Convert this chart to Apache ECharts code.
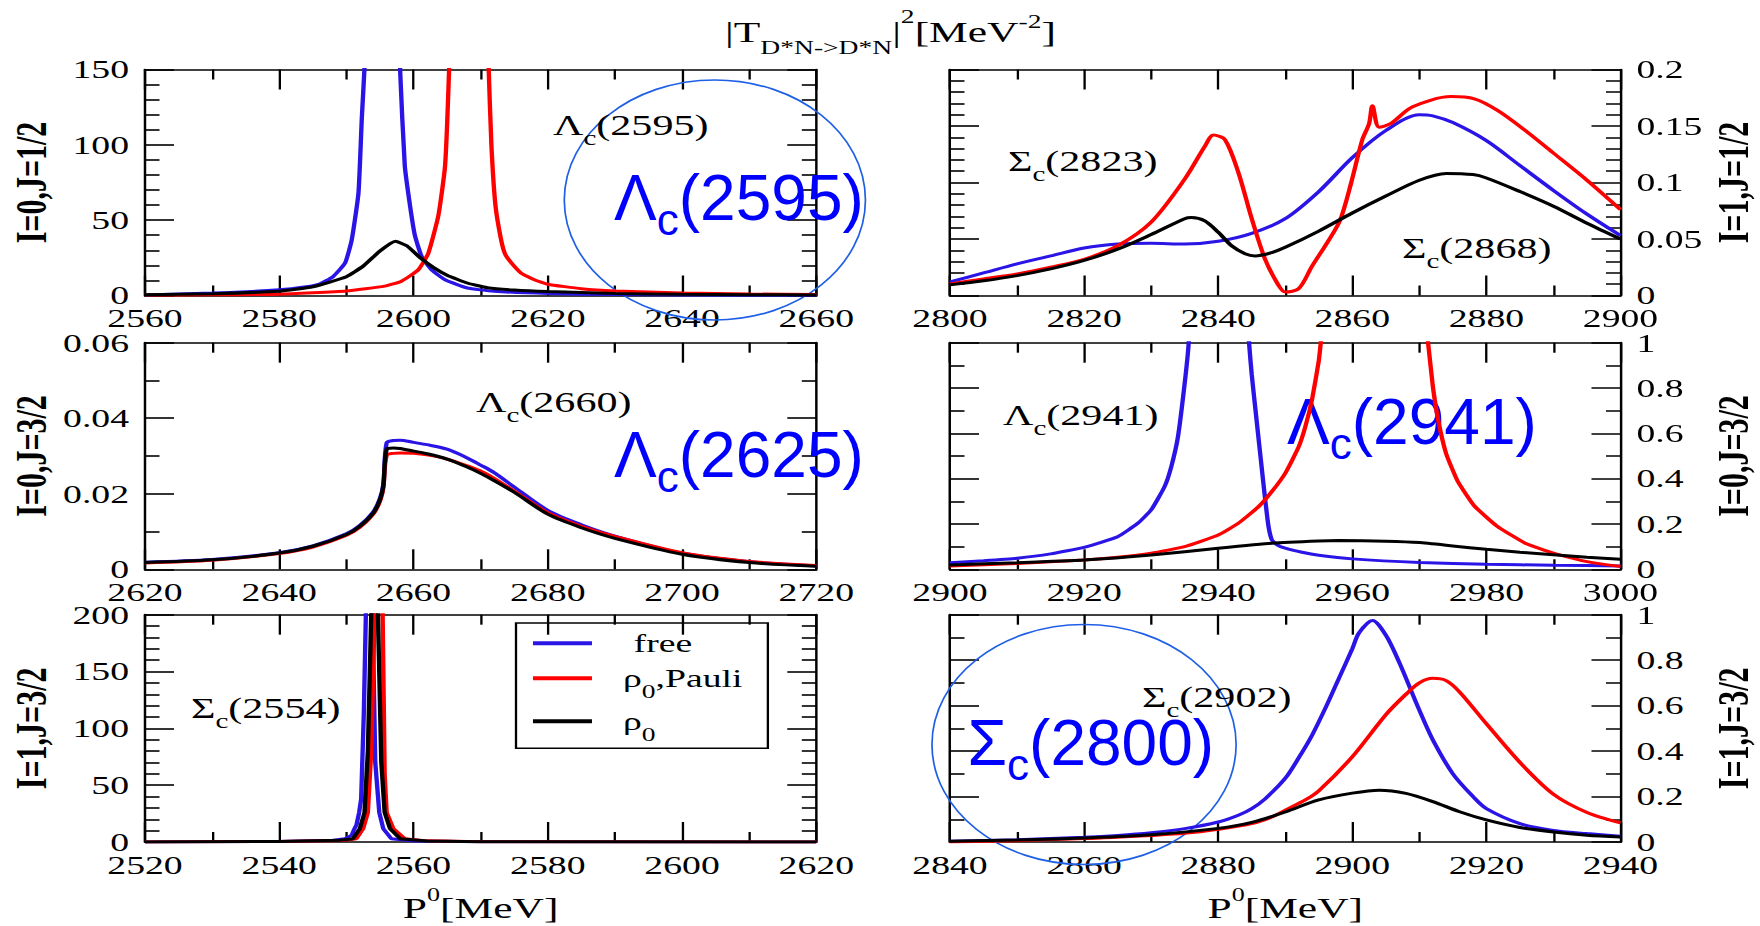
<!DOCTYPE html>
<html><head><meta charset="utf-8">
<script src="https://cdn.jsdelivr.net/npm/echarts@6/dist/echarts.min.js"></script>
<style>
html,body{margin:0;padding:0;background:#fff;overflow:hidden;}
#wrap{width:1760px;height:926px;overflow:hidden;position:relative;background:#fff;}
#chart{width:1213.79px;height:926px;position:absolute;left:0;top:0;transform:scaleX(1.45);transform-origin:0 0;}
</style></head>
<body><div id="wrap"><div id="chart"></div></div>
<script>
// ---------------- data ----------------
const seriesNames = ['free', 'ρ0,Pauli', 'ρ0'];

// Panel 1: I=0, J=1/2  (x 2560..2660)
const p1FreeX  = [2560,2570,2580,2584,2586,2588,2589.8,2590.8,2591.8,2592.3,2592.8,2593.5,2595.4,2597.3,2598,2598.7,2599.5,2600.2,2601.2,2602.7,2604.7,2608,2612,2620,2630,2640,2660];
const p1FreeY  = [0.4,1.6,3.8,5.8,7.6,12.5,21.5,37,68,118,160,260,900,260,150,86,59,40,26,17,10.5,5,2.8,1.3,0.6,0.3,0.1];
const p1PauliX = [2560,2570,2580,2590,2595.7,2598.2,2600.7,2602.2,2603.7,2604.7,2605.3,2606,2608.2,2610.5,2611.2,2611.6,2612.2,2613,2613.6,2614.5,2616,2618,2620,2625,2630,2640,2650,2660];
const p1PauliY = [0.3,0.5,0.9,3,6.2,9.5,17,28,53,86,150,260,900,260,150,100,60,38,28,22,15,10.5,7.5,4.5,3,1.6,1,0.6];
const p1Rho0X  = [2560,2570,2580,2585,2590,2592.5,2595,2597.3,2599,2601,2603,2605,2608,2611,2615,2620,2630,2640,2650,2660];
const p1Rho0Y  = [0.5,1.2,2.8,5.8,12.5,19.5,29.5,36,33,25,18.5,13.5,8.3,5.2,3.6,2.6,1.4,0.8,0.5,0.4];

// Panel 2: I=1, J=1/2  (x 2800..2900)
const p2FreeX  = [2800,2805,2810,2815,2820,2825,2830,2835,2840,2845,2850,2855,2860,2865,2870,2872,2875,2880,2885,2890,2895,2900];
const p2FreeY  = [0.012,0.020,0.028,0.035,0.042,0.0455,0.0462,0.0455,0.048,0.055,0.068,0.092,0.122,0.146,0.160,0.159,0.153,0.137,0.115,0.093,0.072,0.053];
const p2PauliX = [2800,2805,2810,2815,2820,2825,2830,2835,2838,2839.3,2841,2843,2845,2847,2849,2850,2852,2854,2856.5,2858.2,2859.8,2861.5,2862.5,2863,2864,2865.7,2869,2874.7,2878.2,2881.6,2885.8,2890,2895,2900];
const p2PauliY = [0.0103,0.0147,0.019,0.025,0.032,0.044,0.065,0.103,0.132,0.142,0.138,0.109,0.068,0.032,0.009,0.003,0.006,0.026,0.049,0.067,0.099,0.138,0.152,0.168,0.149,0.152,0.167,0.176,0.174,0.164,0.146,0.126,0.102,0.076];
const p2Rho0X  = [2800,2805,2810,2815,2820,2825,2830,2835,2836,2838,2840,2842,2844,2845.5,2848,2850,2855,2860,2865,2870,2874,2878,2880,2885,2890,2895,2900];
const p2Rho0Y  = [0.0094,0.013,0.0176,0.0235,0.031,0.041,0.054,0.068,0.069,0.066,0.056,0.044,0.037,0.035,0.038,0.0426,0.057,0.073,0.088,0.102,0.108,0.107,0.104,0.092,0.079,0.064,0.050];

// Panel 3: I=0, J=3/2  (x 2620..2720)
const p3X      = [2620,2630,2640,2645,2650,2652,2654,2655,2655.5,2656,2657,2658,2660,2662,2665,2668,2670,2672,2675,2680,2685,2690,2700,2710,2720];
const p3FreeY  = [0.0019,0.0026,0.0044,0.0062,0.0094,0.0116,0.0152,0.0188,0.0225,0.0335,0.0341,0.0342,0.0336,0.0330,0.0318,0.0295,0.0276,0.0256,0.0218,0.0156,0.0118,0.0088,0.0043,0.0020,0.0009];
const p3PauliY = [0.0017,0.0024,0.0042,0.0059,0.0090,0.0111,0.0146,0.0180,0.0215,0.0302,0.0307,0.0308,0.0307,0.0303,0.0292,0.0274,0.0260,0.0241,0.0207,0.0150,0.0114,0.0087,0.0044,0.0021,0.0010];
const p3Rho0Y  = [0.0018,0.0025,0.0043,0.0061,0.0092,0.0114,0.0149,0.0184,0.0220,0.0318,0.0321,0.0320,0.0313,0.0306,0.0292,0.0271,0.0254,0.0235,0.0204,0.0146,0.0110,0.0082,0.0040,0.0018,0.0008];

// Panel 4: I=0, J=3/2  (x 2900..3000)
const p4FreeX  = [2900,2905,2910,2915,2920,2925,2928,2930,2932,2933,2934,2935,2935.6,2937,2940.1,2943,2944.6,2945,2945.5,2946.3,2947,2947.5,2948,2948.8,2950,2952.5,2955,2960,2970,2980,2990,3000];
const p4FreeY  = [0.029,0.038,0.049,0.068,0.097,0.144,0.203,0.262,0.365,0.453,0.585,0.82,1.0,1.8,8,1.8,1.0,0.86,0.72,0.50,0.31,0.19,0.13,0.108,0.093,0.075,0.062,0.046,0.030,0.022,0.018,0.015];
const p4PauliX = [2900,2910,2920,2925,2930,2935,2940,2943,2946,2948,2950,2952,2953,2954,2955,2955.3,2958,2963.3,2968,2971.3,2972,2972.8,2974,2975.7,2978.2,2981.6,2985.8,2990,2995,3000];
const p4PauliY = [0.015,0.026,0.041,0.053,0.071,0.10,0.151,0.203,0.276,0.343,0.424,0.54,0.63,0.75,0.92,1.0,1.8,5,1.8,1.0,0.81,0.66,0.51,0.39,0.28,0.19,0.115,0.071,0.034,0.012];
const p4Rho0X  = [2900,2910,2920,2930,2940,2948,2955,2958,2965,2970,2975,2980,2985,2990,2995,3000];
const p4Rho0Y  = [0.019,0.029,0.041,0.063,0.093,0.115,0.125,0.127,0.124,0.118,0.103,0.088,0.075,0.064,0.053,0.044];

// Panel 5: I=1, J=3/2  (x 2520..2620)
const p5FreeX  = [2520,2540,2548,2549.8,2550.8,2551.2,2551.5,2551.9,2552.2,2552.6,2552.9,2553.4,2553.9,2554.3,2554.9,2555.5,2556.7,2560,2570,2620];
const p5FreeY  = [0.1,0.5,1.5,2.9,6,11.7,15,26,38,114,200,900,200,70,26,11.7,2.9,0.8,0.3,0.05];
const p5PauliX = [2520,2540,2549.5,2551.5,2552.5,2553.2,2553.7,2554.2,2554.8,2555.4,2555.7,2556,2557,2558.7,2562,2570,2620];
const p5PauliY = [0.05,0.4,1.3,2.9,11.7,26,80,200,900,200,60,26,11.7,2.9,1,0.3,0.05];
const p5Rho0X  = [2520,2540,2549,2551.0,2552.0,2552.7,2553.2,2553.7,2554.2,2554.7,2555.2,2555.7,2556.5,2558,2562,2570,2620];
const p5Rho0Y  = [0.1,0.5,1.5,2.9,11.7,26,80,200,900,200,70,26,11.7,2.9,0.8,0.3,0.05];

// Panel 6: I=1, J=3/2  (x 2840..2940)
const p6FreeX  = [2840,2850,2860,2865,2870,2875,2880,2883,2885,2887,2890,2892,2894,2896,2898,2900,2901,2903,2905,2907,2910,2912,2915,2918,2920,2925,2930,2935,2940];
const p6FreeY  = [0.003,0.010,0.021,0.029,0.041,0.059,0.088,0.118,0.147,0.19,0.28,0.37,0.47,0.59,0.72,0.85,0.92,0.975,0.91,0.79,0.58,0.45,0.30,0.20,0.147,0.081,0.051,0.037,0.025];
const p6PauliX = [2840,2850,2860,2870,2875,2880,2885,2888,2890,2893,2895,2900,2905,2908,2910,2912,2914,2916,2920,2925,2930,2935,2940];
const p6PauliY = [0.0,0.006,0.015,0.029,0.038,0.056,0.081,0.11,0.14,0.185,0.225,0.375,0.56,0.65,0.70,0.72,0.71,0.66,0.52,0.35,0.21,0.13,0.084];
const p6Rho0X  = [2840,2850,2860,2870,2880,2885,2890,2895,2900,2904,2908,2912,2916,2920,2925,2930,2935,2940];
const p6Rho0Y  = [0.003,0.009,0.018,0.032,0.060,0.086,0.132,0.185,0.215,0.228,0.214,0.178,0.133,0.097,0.064,0.044,0.030,0.022];

// Axis ranges and labels
const panelXMin  = [2560, 2800, 2620, 2900, 2520, 2840];
const panelXMax  = [2660, 2900, 2720, 3000, 2620, 2940];
const xStep = 20;
const panelYMax  = [150, 0.2, 0.06, 1, 200, 1];
const panelYStep = [50, 0.05, 0.02, 0.2, 50, 0.2];
const panelYMinor = [5, 5, 2, 2, 5, 2];
const panelYName = ['I=0,J=1/2', 'I=1,J=1/2', 'I=0,J=3/2', 'I=0,J=3/2', 'I=1,J=3/2', 'I=1,J=3/2'];

const panelSeries = [
  [[p1FreeX, p1FreeY], [p1PauliX, p1PauliY], [p1Rho0X, p1Rho0Y]],
  [[p2FreeX, p2FreeY], [p2PauliX, p2PauliY], [p2Rho0X, p2Rho0Y]],
  [[p3X, p3FreeY], [p3X, p3PauliY], [p3X, p3Rho0Y]],
  [[p4FreeX, p4FreeY], [p4PauliX, p4PauliY], [p4Rho0X, p4Rho0Y]],
  [[p5FreeX, p5FreeY], [p5PauliX, p5PauliY], [p5Rho0X, p5Rho0Y]],
  [[p6FreeX, p6FreeY], [p6PauliX, p6PauliY], [p6Rho0X, p6Rho0Y]]
];

// ---------------- layout & style ----------------
const S = 1.45; // the original figure is stretched horizontally by this factor
const lineColors = ['#2a14e6', '#ff0000', '#000000'];
const panelSmooth = [0.15, 0.3, 0.3, 0.15, false, 0.3];
const gridsPx = [
  [145, 69.5, 671.3, 226], [950, 69.5, 670.5, 226],
  [145, 342.7, 671.3, 226.6], [950, 342.7, 670.5, 226.6],
  [145, 614.7, 671.3, 227.3], [950, 614.7, 670.5, 227.3]
];
const SERIF = 'Liberation Serif';
const SANS = 'Liberation Sans';
const axisLineStyle = { color: '#000', width: 1.7 };
const tickStyle = { color: '#000', width: 1.6 };

function zip(xs, ys) { return xs.map((x, i) => [x, ys[i]]); }

const grid = [], xAxis = [], yAxis = [], series = [];
for (let i = 0; i < 6; i++) {
  const g = gridsPx[i];
  const isRight = i % 2 === 1;
  grid.push({ left: g[0] / S, top: g[1], width: g[2] / S, height: g[3], containLabel: false, outerBoundsMode: 'none' });
  const xBase = {
    type: 'value', gridIndex: i, min: panelXMin[i], max: panelXMax[i], interval: xStep,
    axisLine: { show: true, onZero: false, lineStyle: axisLineStyle },
    axisTick: { show: true, inside: true, length: 20, lineStyle: tickStyle },
    minorTick: { show: true, splitNumber: 2, length: 10, lineStyle: tickStyle },
    splitLine: { show: false }, minorSplitLine: { show: false }
  };
  const xb = Object.assign({}, xBase, {
    position: 'bottom',
    axisLabel: { show: true, margin: 10, fontFamily: SERIF, fontSize: 26, color: '#000',
                 formatter: function (v) { return String(v); } }
  });
  if (i >= 4) {
    xb.name = '{m|P}{u|0}{m|[MeV]}';
    xb.nameLocation = 'middle';
    xb.nameGap = 48.8;
    xb.nameTextStyle = {
      fontFamily: SERIF, fontSize: 30, color: '#000', lineHeight: 34,
      rich: {
        m: { fontFamily: SERIF, fontSize: 30, lineHeight: 34, color: '#000' },
        u: { fontFamily: SERIF, fontSize: 18, lineHeight: 8, padding: [0, 0, 25, 0], color: '#000' }
      }
    };
  }
  xAxis.push(xb);
  xAxis.push(Object.assign({}, xBase, { position: 'top', axisLabel: { show: false } }));

  const yBase = {
    type: 'value', gridIndex: i, min: 0, max: panelYMax[i], interval: panelYStep[i],
    axisLine: { show: true, onZero: false, lineStyle: axisLineStyle },
    axisTick: { show: true, inside: true, length: 20, lineStyle: tickStyle },
    minorTick: { show: true, splitNumber: panelYMinor[i], length: 10, lineStyle: tickStyle },
    splitLine: { show: false }, minorSplitLine: { show: false }
  };
  yAxis.push(Object.assign({}, yBase, {
    position: isRight ? 'right' : 'left',
    axisLabel: { show: true, margin: 11, fontFamily: SERIF, fontSize: 26, color: '#000' },
    name: panelYName[i], nameLocation: 'middle', nameRotate: 90, nameGap: 63,
    nameTextStyle: { fontFamily: SERIF, fontWeight: 'bold', fontSize: 30, lineHeight: 30, color: '#000' }
  }));
  yAxis.push(Object.assign({}, yBase, { position: isRight ? 'left' : 'right', axisLabel: { show: false } }));

  panelSeries[i].forEach((pair, k) => {
    series.push({
      type: 'line', name: seriesNames[k], xAxisIndex: 2 * i, yAxisIndex: 2 * i,
      data: zip(pair[0], pair[1]),
      symbol: 'none', showSymbol: false, clip: true,
      smooth: panelSmooth[i],
      color: lineColors[k],
      itemStyle: { color: lineColors[k] },
      lineStyle: { color: lineColors[k], width: 3 },
      z: 2 + k, animation: false, silent: true
    });
  });
}

const serifRich = {
  m: { fontFamily: SERIF, fontSize: 29, lineHeight: 32 },
  s: { fontFamily: SERIF, fontSize: 20, lineHeight: 8, padding: [26, 0, 0, 0] }
};
function serifNote(greek, rest, xFull, yCenter) {
  return {
    type: 'text', x: xFull / S, y: yCenter, z: 10, silent: true,
    style: { text: '{m|' + greek + '}{s|c}{m|' + rest + '}', rich: serifRich, fill: '#000',
             align: 'left', verticalAlign: 'middle', textAlign: 'left', textVerticalAlign: 'middle' }
  };
}
const bigRich = {
  m: { fontFamily: SANS, fontSize: 64, lineHeight: 64 },
  s: { fontFamily: SANS, fontSize: 44, lineHeight: 10, padding: [44, 0, 0, 0] }
};
function bigNote(greek, rest, xFull, yCenter) {
  return {
    type: 'text', x: xFull / S, y: yCenter, scaleX: 1 / S, z: 1, silent: true,
    style: { text: '{m|' + greek + '}{s|c}{m|' + rest + '}', rich: bigRich, fill: '#0000ff',
             align: 'left', verticalAlign: 'middle', textAlign: 'left', textVerticalAlign: 'middle' }
  };
}
function ring(cx, cy, rx, ry) {
  return {
    type: 'ellipse', x: 0, y: 0, scaleX: 1 / S, z: 1, silent: true,
    shape: { cx: cx, cy: cy, rx: rx, ry: ry },
    style: { fill: 'none', stroke: '#1f5fe6', lineWidth: 1.7 }
  };
}

const option = {
  animation: false,
  backgroundColor: '#fff',
  title: {
    text: '{a||T}{b|D*N->D*N}{a||}{c|2}{a|[MeV}{d|-2}{a|]}',
    left: 890.5 / S, top: 14.5, textAlign: 'center', padding: 0,
    textStyle: {
      fontFamily: SERIF, fontSize: 30, fontWeight: 'normal', color: '#000',
      rich: {
        a: { fontFamily: SERIF, fontSize: 30, lineHeight: 34, color: '#000' },
        b: { fontFamily: SERIF, fontSize: 19, lineHeight: 8, padding: [33, 0, 0, 0], color: '#000' },
        c: { fontFamily: SERIF, fontSize: 19, lineHeight: 8, padding: [0, 0, 30, 0], color: '#000' },
        d: { fontFamily: SERIF, fontSize: 19, lineHeight: 8, padding: [0, 0, 20, 0], color: '#000' }
      }
    }
  },
  legend: {
    show: true, orient: 'vertical', left: 516 / S, top: 623,
    icon: 'rect', itemWidth: 59 / S, itemHeight: 4, itemGap: -3,
    padding: [5.2, 17.5, 4, 11.7],
    borderColor: '#000', borderWidth: 1.6,
    selectedMode: false,
    data: seriesNames,
    formatter: function (name) {
      if (name === 'free') return '{f|free}';
      if (name === 'ρ0,Pauli') return '{r|ρ}{s|0}{t|,Pauli}';
      return '{r|ρ}{s|0}';
    },
    textStyle: {
      fontFamily: SERIF, fontSize: 26, color: '#000', lineHeight: 30,
      rich: {
        f: { fontFamily: SERIF, fontSize: 26, lineHeight: 30, padding: [0, 0, 0, 23.7], color: '#000' },
        r: { fontFamily: SERIF, fontSize: 26, lineHeight: 30, padding: [0, 0, 0, 16.4], color: '#000' },
        t: { fontFamily: SERIF, fontSize: 26, lineHeight: 30, color: '#000' },
        s: { fontFamily: SERIF, fontSize: 19, lineHeight: 8, padding: [27, 0, 0, 0], color: '#000' }
      }
    }
  },
  grid: grid, xAxis: xAxis, yAxis: yAxis, series: series,
  graphic: { elements: [
    ring(714.5, 200, 150.5, 120),
    ring(1083.5, 744.5, 152, 120),
    bigNote('Λ', '(2595)', 614, 197.6),
    bigNote('Λ', '(2625)', 614, 454.6),
    bigNote('Λ', '(2941)', 1287, 421.6),
    bigNote('Σ', '(2800)', 967.5, 742.6),
    serifNote('Λ', '(2595)', 553, 125),
    serifNote('Σ', '(2823)', 1008, 161),
    serifNote('Σ', '(2868)', 1402, 248),
    serifNote('Λ', '(2660)', 476, 402),
    serifNote('Λ', '(2941)', 1003, 415),
    serifNote('Σ', '(2554)', 191, 708),
    serifNote('Σ', '(2902)', 1142, 697)
  ] }
};

const chart = echarts.init(document.getElementById('chart'), null, { renderer: 'svg', width: 1760 / S, height: 926 });
chart.setOption(option);
</script>
</body></html>
